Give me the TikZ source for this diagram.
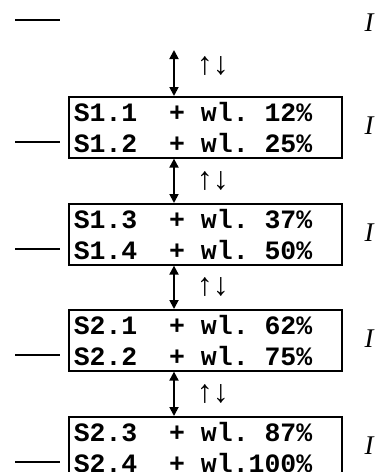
\documentclass[tikz,border=0pt]{standalone}
\usepackage{fontspec}
\setmainfont{Liberation Serif}
\setmonofont{Liberation Mono}
\usetikzlibrary{arrows.meta}

\newcommand{\blank}{\phantom{0}}

\tikzset{
  lvlbox/.style={draw, line width=1.6pt, minimum width=273pt, minimum height=61pt,
    inner xsep=5pt, inner ysep=0pt, text width=263pt, align=left, anchor=north west,
    font=\fontsize{26.5}{31}\selectfont\ttfamily\bfseries},
  swaparrow/.style={{Triangle[length=9pt,width=9pt]}-{Triangle[length=9pt,width=9pt]}, line width=1.8pt},
  stub/.style={line width=1.3pt},
  ilabel/.style={font=\fontsize{27}{27}\selectfont\itshape, inner sep=0pt},
  udlabel/.style={font=\fontsize{32}{32}\selectfont, inner sep=0pt},
}

\begin{document}
\begin{tikzpicture}[x=1pt,y=-1pt]
  \useasboundingbox (0,0) rectangle (376,472);
  % top stub and label
  \coordinate (l0) at (15,20);
  \draw[stub] (l0) -- ++(45,0);
  \node[ilabel] (i0) at (369,23) {I};
  \coordinate (a0) at (174,50);
  \foreach \n/\y/\a/\b/\c/\d in {1/96/1.1/1.2/\blank12/\blank25, 2/203/1.3/1.4/\blank37/\blank50,
                                  3/309/2.1/2.2/\blank62/\blank75, 4/416/2.3/2.4/\blank87/100} {
    \node[lvlbox] (box\n) at (68,\y)
      {S\a\blank\blank+\blank wl.\c\%\\S\b\blank\blank+\blank wl.\d\%};
    \coordinate (l\n) at (15,\y+46);
    \draw[stub, shorten >=8pt] (l\n) -- (l\n -| box\n.west);
    \node[ilabel] (i\n) at (369,\y+30) {I};
  }
  % swap arrows between the levels
  \draw[swaparrow] (a0) -- (box1.north -| a0)
    node[udlabel, pos=0.35, right=22pt] (ud0) {↑↓};
  \foreach \n/\m in {1/2, 2/3, 3/4} {
    \draw[swaparrow] (box\n.south -| a0) -- (box\m.north -| a0)
      node[udlabel, midway, right=22pt] (ud\n) {↑↓};
  }
\end{tikzpicture}
\end{document}
